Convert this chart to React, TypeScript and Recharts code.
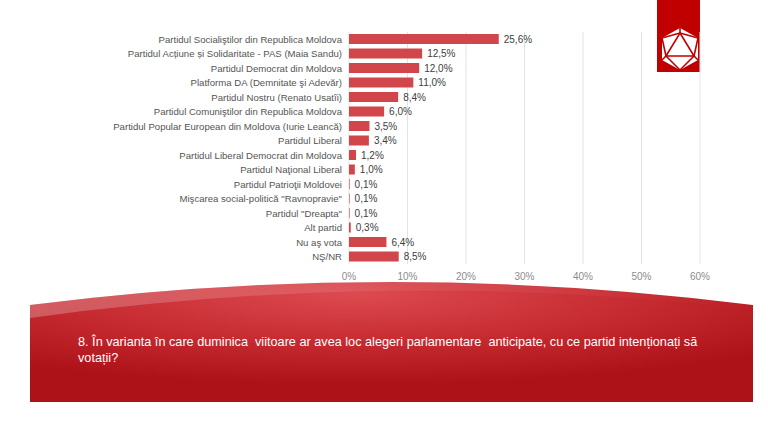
import { Bar, BarChart, CartesianGrid, LabelList, XAxis, YAxis } from 'recharts';

const parties = [
  'Partidul Socialiştilor din Republica Moldova',
  'Partidul Acțiune și Solidaritate - PAS (Maia Sandu)',
  'Partidul Democrat din Moldova',
  'Platforma DA (Demnitate şi Adevăr)',
  'Partidul Nostru (Renato Usatîi)',
  'Partidul Comuniştilor din Republica Moldova',
  'Partidul Popular European din Moldova (Iurie Leancă)',
  'Partidul Liberal',
  'Partidul Liberal Democrat din Moldova',
  'Partidul Naţional Liberal',
  'Partidul Patrioţii Moldovei',
  'Mişcarea social-politică "Ravnopravie"',
  'Partidul "Dreapta"',
  'Alt partid',
  'Nu aş vota',
  'NŞ/NR'
];

const shares = [25.6, 12.5, 12.0, 11.0, 8.4, 6.0, 3.5, 3.4, 1.2, 1.0, 0.1, 0.1, 0.1, 0.3, 6.4, 8.5];

const axisTicks = [0, 10, 20, 30, 40, 50, 60];

const question =
  '8. În varianta în care duminica  viitoare ar avea loc alegeri parlamentare  anticipate, cu ce partid intenționați să';
const questionEnd = 'votații?';

const rows = parties.map((name, i) => ({ name, value: shares[i] }));

const fmt = (v: number) => v.toFixed(1).replace('.', ',') + '%';

// plain one-line label, recharts would wrap the long ones
const PartyTick = (props: any) => {
  const { x, y, payload } = props;
  return (
    <text x={x} y={y} textAnchor="end" dominantBaseline="central" fill="#555555" fontSize={9.6}>
      {payload.value}
    </text>
  );
};

function Banner() {
  return (
    <svg width={768} height={432} style={{ position: 'absolute', left: 0, top: 0 }}>
      <defs>
        <radialGradient id="bannerFill" cx="0.45" cy="0.1" r="0.75">
          <stop offset="0%" stopColor="#dc4a50" />
          <stop offset="55%" stopColor="#c52a30" />
          <stop offset="100%" stopColor="#ad1219" />
        </radialGradient>
        <linearGradient id="shine" x1="0" y1="0" x2="1" y2="0">
          <stop offset="0%" stopColor="#ffffff" stopOpacity={0.25} />
          <stop offset="50%" stopColor="#ffffff" stopOpacity={0.08} />
          <stop offset="100%" stopColor="#ffffff" stopOpacity={0} />
        </linearGradient>
      </defs>
      <path d="M30,305 Q391,259 753,305 L753,402 L30,402 Z" fill="url(#bannerFill)" />
      <path d="M30,305 Q391,259 753,305 L753,309 Q391,268 30,318 Z" fill="url(#shine)" />
      <rect x={657} y={0} width={43} height={72} fill="#c00000" />
      <polygon points="680,28 698,38 698,60 680,70 662,60 662,38" fill="#ffffff" />
      <g stroke="#c00000" strokeWidth={1.6} fill="none">
        <polygon points="680,33 694,56 666,56" />
        <line x1={680} y1={28} x2={680} y2={33} />
        <line x1={662} y1={38} x2={680} y2={33} />
        <line x1={698} y1={38} x2={680} y2={33} />
        <line x1={662} y1={38} x2={666} y2={56} />
        <line x1={698} y1={38} x2={694} y2={56} />
        <line x1={662} y1={60} x2={666} y2={56} />
        <line x1={698} y1={60} x2={694} y2={56} />
        <line x1={666} y1={56} x2={680} y2={70} />
        <line x1={694} y1={56} x2={680} y2={70} />
      </g>
    </svg>
  );
}

export default function App() {
  return (
    <div
      style={{
        position: 'absolute',
        left: 0,
        top: 0,
        width: 768,
        height: 432,
        background: '#ffffff',
        fontFamily: 'Arial, "Liberation Sans", sans-serif',
        overflow: 'hidden'
      }}
    >
      <Banner />
      <div style={{ position: 'absolute', left: 0, top: 0 }}>
        <BarChart
          width={768}
          height={290}
          data={rows}
          layout="vertical"
          margin={{ top: 32, right: 68, left: 0, bottom: 0 }}
        >
          <CartesianGrid horizontal={false} stroke="#e3e3e3" />
          <XAxis
            type="number"
            domain={[0, 60]}
            ticks={axisTicks}
            tickFormatter={(v: number) => v + '%'}
            axisLine={false}
            tickLine={false}
            tickSize={0}
            tickMargin={9}
            height={26}
            tick={{ fill: '#8c8c8c', fontSize: 10 }}
          />
          <YAxis
            type="category"
            dataKey="name"
            width={349}
            axisLine={false}
            tickLine={false}
            tickSize={0}
            tickMargin={7}
            interval={0}
            tick={<PartyTick />}
          />
          <Bar dataKey="value" fill="#d1464a" barSize={10} isAnimationActive={false}>
            <LabelList
              dataKey="value"
              position="right"
              offset={5}
              formatter={(v: any) => fmt(Number(v))}
              style={{ fill: '#404040', fontSize: 10 }}
            />
          </Bar>
        </BarChart>
      </div>
      <div
        style={{
          position: 'absolute',
          left: 78,
          top: 334,
          width: 680,
          color: '#ffffff',
          fontSize: 12.7,
          lineHeight: '16px',
          whiteSpace: 'pre-wrap'
        }}
      >
        {question}
        <br />
        {questionEnd}
      </div>
    </div>
  );
}
